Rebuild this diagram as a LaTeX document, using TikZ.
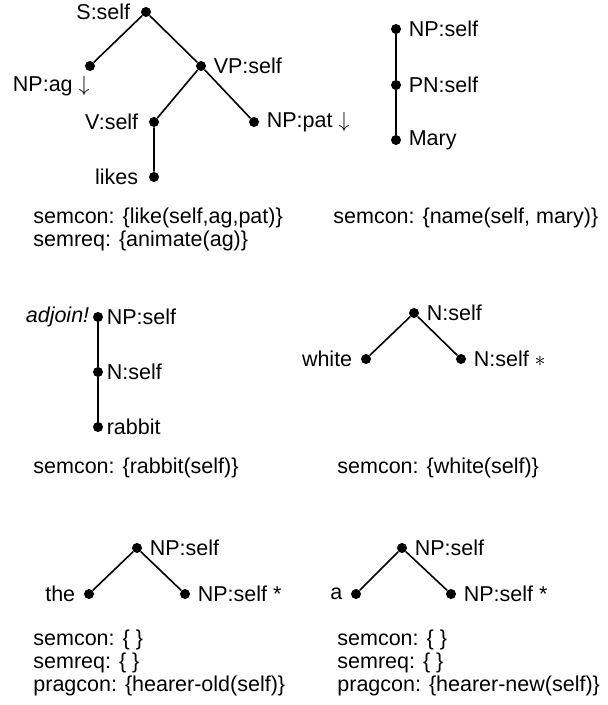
\documentclass[tikz,border=0pt]{standalone}
\usepackage{fontspec}
\setmainfont{Liberation Sans}
\begin{document}
\begin{tikzpicture}[x=0.5pt, y=-0.5pt, font=\fontsize{10.75}{11.5}\selectfont,
  dot/.style={circle, fill=black, inner sep=0pt, minimum size=5pt},
  every label/.style={inner sep=0pt},
  label distance=3.5pt,
  branch/.style={line width=0.8pt},
  feats/.style={align=left, anchor=base west, inner sep=0pt}]
\useasboundingbox (0,0) rectangle (608,705);
% likes
\node[dot, label={[label distance=5pt]left:{S:self}}] (s) at (146,12) {};
\node[dot, label={[anchor=north east, label distance=2pt]below:{NP:ag $\downarrow$}}] (npag) at (90,66) {};
\node[dot, label={right:{VP:self}}] (vp) at (201,66) {};
\node[dot, label={[label distance=5pt]left:{V:self}}] (v) at (154,122) {};
\node[dot, label={right:{NP:pat $\downarrow$}}] (nppat) at (254,122) {};
\node[dot, label={[label distance=5pt]left:likes}] (likes) at (154,177) {};
\draw[branch] (npag) -- (s) -- (vp) -- (nppat);
\draw[branch] (vp) -- (v) -- (likes);
% base anchor = baseline of the last line
\node[feats] (semlikes) at (33,247) {semcon: \{like(self,ag,pat)\}\\semreq: \{animate(ag)\}};
% Mary
\node[dot, label={right:{NP:self}}] (npmary) at (396,29) {};
\node[dot, label={right:{PN:self}}] (pn) at (396,85) {};
\node[dot, label={right:Mary}] (mary) at (396,140) {};
\draw[branch] (npmary) -- (pn) -- (mary);
\node[feats] (semmary) at (333,224) {semcon: \{name(self, mary)\}};
% rabbit
\node[dot, label={[label distance=1.5pt]right:{NP:self}}, label={[label distance=1.5pt]left:{\itshape adjoin!}}] (nprabbit) at (98,317) {};
\node[dot, label={[label distance=1.5pt]right:{N:self}}] (nrabbit) at (98,372) {};
\node[dot, label={[label distance=1.5pt]right:rabbit}] (rabbit) at (98,427) {};
\draw[branch] (nprabbit) -- (nrabbit) -- (rabbit);
\node[feats] (semrabbit) at (33,473) {semcon: \{rabbit(self)\}};
% white
\node[dot, label={right:{N:self}}] (nwhite) at (414,313) {};
\node[dot, label={[label distance=4pt]left:white}] (white) at (366,359) {};
\node[dot, label={right:{N:self $*$}}] (nfoot) at (461,359) {};
\draw[branch] (white) -- (nwhite) -- (nfoot);
\node[feats] (semwhite) at (337,473) {semcon: \{white(self)\}};
% the
\node[dot, label={right:{NP:self}}] (npthe) at (137,548) {};
\node[dot, label={[label distance=4pt]left:the}] (the) at (89,594) {};
\node[dot, label={right:{NP:self *}}] (npfoot1) at (185,594) {};
\draw[branch] (the) -- (npthe) -- (npfoot1);
\node[feats] (semthe) at (33,691) {semcon: \{ \}\\semreq: \{ \}\\pragcon: \{hearer-old(self)\}};
% a
\node[dot, label={right:{NP:self}}] (npa) at (402,548) {};
\node[dot, label={[label distance=4pt]left:a}] (a) at (356,594) {};
\node[dot, label={right:{NP:self *}}] (npfoot2) at (451,594) {};
\draw[branch] (a) -- (npa) -- (npfoot2);
\node[feats] (sema) at (337,691) {semcon: \{ \}\\semreq: \{ \}\\pragcon: \{hearer-new(self)\}};
\end{tikzpicture}
\end{document}
